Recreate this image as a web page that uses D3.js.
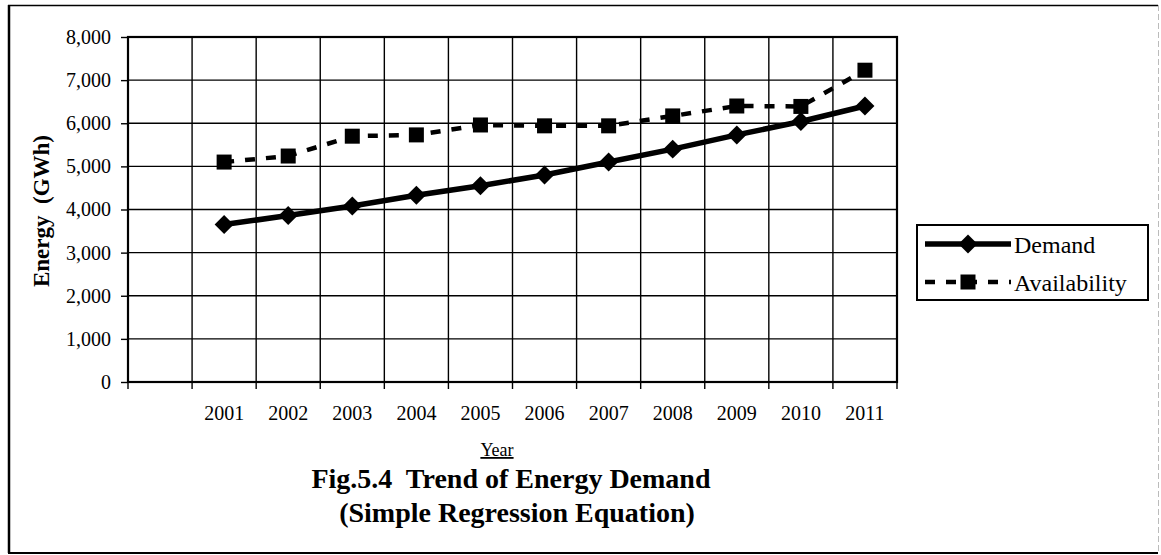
<!DOCTYPE html>
<html>
<head>
<meta charset="utf-8">
<script src="https://cdn.jsdelivr.net/npm/d3@7/dist/d3.min.js"></script>
<style>
  html, body { margin: 0; padding: 0; background: #fff; }
  svg { display: block; }
  text { font-family: "Liberation Serif", "Times New Roman", serif; fill: #000; }
</style>
</head>
<body>
<svg id="chart" width="1161" height="555"></svg>
<script>
// Category slots along the x axis (the first slot is left blank)
const categories = ["", "2001", "2002", "2003", "2004", "2005", "2006", "2007", "2008", "2009", "2010", "2011"];
const years = ["2001", "2002", "2003", "2004", "2005", "2006", "2007", "2008", "2009", "2010", "2011"];
// Energy in GWh
const demand       = [3650, 3860, 4080, 4330, 4550, 4800, 5100, 5400, 5730, 6040, 6400];
const availability = [5100, 5240, 5700, 5730, 5960, 5940, 5940, 6170, 6400, 6390, 7230];
const yTicks = [0, 1000, 2000, 3000, 4000, 5000, 6000, 7000, 8000];

const svg = d3.select("#chart");

const plot = { left: 128, right: 897, top: 37, bottom: 382 };

const x = d3.scaleBand().domain(categories).range([plot.left, plot.right]);
const y = d3.scaleLinear().domain([0, 8000]).range([plot.bottom, plot.top]);
const cx = c => x(c) + x.bandwidth() / 2;
const fmt = d3.format(",");

// Outer frame
const frame = svg.append("g").attr("fill", "none");
frame.append("line").attr("x1", 9).attr("x2", 9).attr("y1", 5).attr("y2", 553).attr("stroke", "#000").attr("stroke-width", 2.5);
frame.append("line").attr("x1", 8).attr("x2", 1158).attr("y1", 5.5).attr("y2", 5.5).attr("stroke", "#000").attr("stroke-width", 1.5);
frame.append("line").attr("x1", 8).attr("x2", 1158).attr("y1", 553).attr("y2", 553).attr("stroke", "#000").attr("stroke-width", 2);
frame.append("line").attr("x1", 1158.5).attr("x2", 1158.5).attr("y1", 5).attr("y2", 553).attr("stroke", "#bbb").attr("stroke-width", 1).attr("stroke-dasharray", "6,3");

// Gridlines
const grid = svg.append("g").attr("stroke", "#000").attr("stroke-width", 1.4);
grid.selectAll("line.h").data(yTicks.slice(1, -1)).join("line")
  .attr("class", "h")
  .attr("x1", plot.left).attr("x2", plot.right)
  .attr("y1", d => y(d)).attr("y2", d => y(d));
grid.selectAll("line.v").data(categories.slice(1)).join("line")
  .attr("class", "v")
  .attr("x1", d => x(d)).attr("x2", d => x(d))
  .attr("y1", plot.top).attr("y2", plot.bottom);

// Plot border
svg.append("rect")
  .attr("x", plot.left).attr("y", plot.top)
  .attr("width", plot.right - plot.left).attr("height", plot.bottom - plot.top)
  .attr("fill", "none").attr("stroke", "#000").attr("stroke-width", 2.2);

// Y axis
const yAxis = svg.append("g")
  .attr("transform", `translate(${plot.left},0)`)
  .call(d3.axisLeft(y).tickValues(yTicks).tickFormat(fmt).tickSize(7).tickPadding(10));
yAxis.select(".domain").remove();
yAxis.selectAll(".tick line").attr("stroke", "#000").attr("stroke-width", 1.4);
yAxis.selectAll(".tick text").attr("font-size", 20).attr("font-family", "Liberation Serif");

// X axis: ticks sit on the category boundaries, labels at the category centres
const xAxis = svg.append("g").attr("transform", `translate(0,${plot.bottom})`);
xAxis.selectAll("line").data(categories.concat(["end"])).join("line")
  .attr("x1", (d, i) => plot.left + i * x.bandwidth())
  .attr("x2", (d, i) => plot.left + i * x.bandwidth())
  .attr("y1", 0).attr("y2", 7)
  .attr("stroke", "#000").attr("stroke-width", 1.4);
xAxis.selectAll("text").data(categories).join("text")
  .attr("x", d => cx(d))
  .attr("y", 38)
  .attr("text-anchor", "middle")
  .attr("font-size", 20)
  .text(d => d);

// Series
const demandPts = years.map((yr, i) => ({ c: yr, v: demand[i] }));
const availPts  = years.map((yr, i) => ({ c: yr, v: availability[i] }));
const line = d3.line().x(d => cx(d.c)).y(d => y(d.v));

svg.append("path").datum(availPts)
  .attr("d", line).attr("fill", "none")
  .attr("stroke", "#000").attr("stroke-width", 4.5)
  .attr("stroke-dasharray", "10,11");

svg.append("path").datum(demandPts)
  .attr("d", line).attr("fill", "none")
  .attr("stroke", "#000").attr("stroke-width", 5.5)
  .attr("stroke-linejoin", "round");

const diamond = d3.symbol().type(d3.symbolDiamond2).size(230);
svg.append("g").selectAll("path").data(demandPts).join("path")
  .attr("transform", d => `translate(${cx(d.c)},${y(d.v)})`)
  .attr("d", diamond).attr("fill", "#000");

const sq = 15;
svg.append("g").selectAll("rect").data(availPts).join("rect")
  .attr("x", d => cx(d.c) - sq / 2).attr("y", d => y(d.v) - sq / 2)
  .attr("width", sq).attr("height", sq).attr("fill", "#000");

// Legend
const lg = svg.append("g");
lg.append("rect").attr("x", 917).attr("y", 225).attr("width", 231).attr("height", 75)
  .attr("fill", "#fff").attr("stroke", "#000").attr("stroke-width", 2);
const lx1 = 925, lx2 = 1011, lxc = (lx1 + lx2) / 2;
const rowDemand = 244, rowAvail = 282;
lg.append("line").attr("x1", lx1).attr("x2", lx2).attr("y1", rowDemand).attr("y2", rowDemand)
  .attr("stroke", "#000").attr("stroke-width", 5.5);
lg.append("path").attr("transform", `translate(${lxc},${rowDemand})`).attr("d", diamond).attr("fill", "#000");
lg.append("line").attr("x1", lx1).attr("x2", lx2).attr("y1", rowAvail).attr("y2", rowAvail)
  .attr("stroke", "#000").attr("stroke-width", 4.5).attr("stroke-dasharray", "10,11");
lg.append("rect").attr("x", lxc - sq / 2).attr("y", rowAvail - sq / 2).attr("width", sq).attr("height", sq).attr("fill", "#000");
lg.append("text").attr("x", 1014).attr("y", rowDemand + 9).attr("font-size", 24).text("Demand");
lg.append("text").attr("x", 1014).attr("y", rowAvail + 9).attr("font-size", 24).text("Availability");

// Axis titles
svg.append("text")
  .attr("transform", `translate(49,211) rotate(-90)`)
  .attr("text-anchor", "middle")
  .attr("font-size", 23).attr("font-weight", "bold")
  .attr("xml:space", "preserve")
  .text("Energy  (GWh)");

svg.append("text")
  .attr("x", 497).attr("y", 456)
  .attr("text-anchor", "middle")
  .attr("font-size", 18)
  .attr("text-decoration", "underline")
  .text("Year");

// Figure caption
svg.append("text")
  .attr("x", 511).attr("y", 488)
  .attr("text-anchor", "middle")
  .attr("font-size", 28).attr("font-weight", "bold")
  .attr("xml:space", "preserve")
  .text("Fig.5.4  Trend of Energy Demand");
svg.append("text")
  .attr("x", 517).attr("y", 522)
  .attr("text-anchor", "middle")
  .attr("font-size", 28).attr("font-weight", "bold")
  .text("(Simple Regression Equation)");
</script>
</body>
</html>
